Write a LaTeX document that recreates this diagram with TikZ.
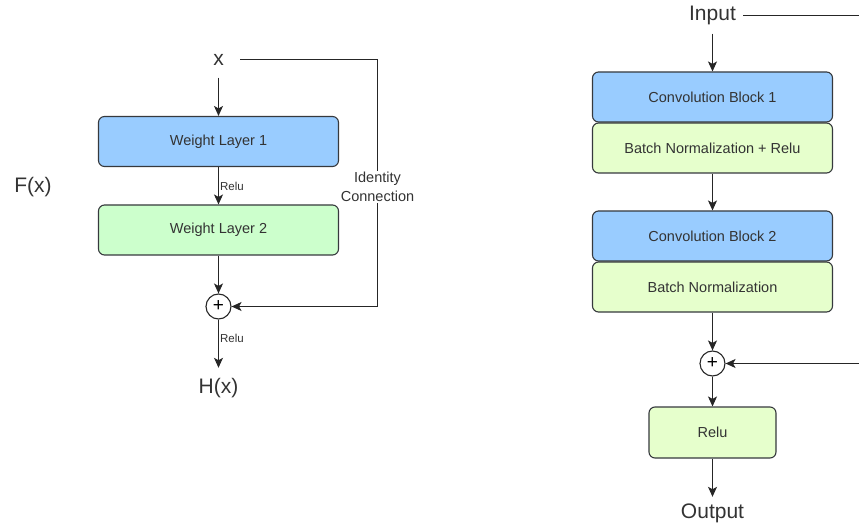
\documentclass[tikz,border=0pt]{standalone}
\usepackage{fontspec}
\setmainfont{Liberation Sans}
\usetikzlibrary{arrows.meta}
\definecolor{bluefill}{HTML}{99CCFF}
\definecolor{greenfill}{HTML}{CCFFCC}
\definecolor{lgreenfill}{HTML}{E6FFCC}
\definecolor{edge}{HTML}{36393D}
\definecolor{txt}{HTML}{333333}
\tikzset{
  box/.style={draw=edge, line width=1.1pt, rounded corners=6pt, minimum width=240pt, minimum height=50pt, inner sep=0pt, text=txt, font=\fontsize{14.5}{17}\selectfont},
  bigtext/.style={text=txt, inner sep=0pt, font=\fontsize{21}{25}\selectfont},
  smalltext/.style={text=txt, inner sep=1pt, font=\fontsize{11.5}{14}\selectfont},
  midtext/.style={text=txt, font=\fontsize{14.5}{19}\selectfont, align=center},
  plus/.style={circle, draw=black!85, line width=1.1pt, minimum size=25pt, inner sep=0pt, fill=white, font=\fontsize{19}{19}\selectfont},
  conn/.style={draw=black!85, line width=1.1pt},
  arr/.style={conn, -{Stealth[length=10pt,width=9pt,inset=2.5pt]}}
}
\begin{document}
\begin{tikzpicture}[x=1pt,y=-1pt]
\useasboundingbox (0,0) rectangle (859,529);
% ---------------- left ----------------
\node[bigtext, minimum height=36pt, minimum width=43pt] (xin) at (218.5,59.5) {x};
\node[box, fill=bluefill] (w1) at (218.5,141.5) {Weight Layer 1};
\node[box, fill=greenfill] (w2) at (218.5,230) {Weight Layer 2};
\node[plus] (pl) at (218.5,306.5) {+};
\node[bigtext, minimum height=40pt] (hx) at (218.5,388) {H(x)};
\node[bigtext] (fx) at (33,187) {F(x)};
\coordinate (c1) at (377.5,59.5);
\coordinate (c2) at (377.5,306.5);
\draw[arr] (xin.south) -- (w1.north);
\draw[arr] (w1.south) -- node[smalltext, right, pos=0.52] (r1) {Relu} (w2.north);
\draw[arr] (w2.south) -- (pl.north);
\draw[arr] (pl.south) -- node[smalltext, right, pos=0.4] (r2) {Relu} (hx.north);
\draw[arr] (xin.east) -- (c1) -- (c2) -- (pl.east);
\node[midtext, fill=white, inner sep=1pt] (idc) at (377.5,187) {Identity\\Connection};
% ---------------- right ----------------
\node[bigtext, minimum height=36pt, inner xsep=7pt] (inp) at (712.5,15.5) {Input};
\coordinate (rtop) at (859,15.5);
\coordinate (rmid) at (859,363.5);
\node[box, fill=bluefill] (cb1) at (712.5,97) {Convolution Block 1};
\node[box, fill=lgreenfill] (bn1) at (712.5,148) {Batch Normalization + Relu};
\node[box, fill=bluefill] (cb2) at (712.5,236) {Convolution Block 2};
\node[box, fill=lgreenfill] (bn2) at (712.5,287) {Batch Normalization};
\node[plus] (pr) at (712.5,363.5) {+};
\node[box, fill=lgreenfill, minimum width=127pt, minimum height=51pt] (relu) at (712.5,432.5) {Relu};
\node[bigtext, minimum height=32pt] (out) at (712.5,513) {Output};
\draw[conn] (inp.east) -- (rtop);
\draw[arr] (inp.south) -- (cb1.north);
\draw[arr] (bn1.south) -- (cb2.north);
\draw[arr] (bn2.south) -- (pr.north);
\draw[arr] (rmid) -- (pr.east);
\draw[arr] (pr.south) -- (relu.north);
\draw[arr] (relu.south) -- (out.north);
\end{tikzpicture}
\end{document}
